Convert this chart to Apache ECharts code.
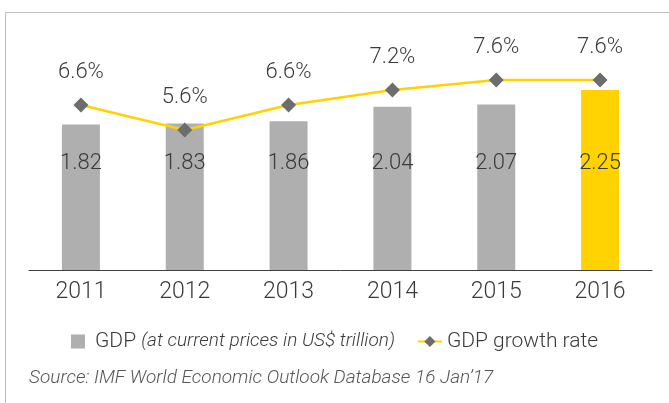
<!DOCTYPE html>
<html>
<head>
<meta charset="utf-8">
<script src="https://cdn.jsdelivr.net/npm/echarts@6/dist/echarts.min.js"></script>
<style>
  html, body { margin: 0; padding: 0; background: #fff; }
  #chart { width: 669px; height: 403px; }
</style>
</head>
<body>
<div id="chart"></div>
<script>
// data
const years = ['2011', '2012', '2013', '2014', '2015', '2016']
const gdp = [1.82, 1.83, 1.86, 2.04, 2.07, 2.25]
const growth = [6.6, 5.6, 6.6, 7.2, 7.6, 7.6]

const FONT = "Roboto, 'Liberation Sans', sans-serif"
const W = 300
const TEXT = '#3a3a3a'

let chart = echarts.init(document.getElementById('chart'))

let option = {
  backgroundColor: '#fff',
  textStyle: { fontFamily: FONT, fontWeight: W },
  animation: false,
  // light frame around the chart
  graphic: [
    {
      type: 'rect',
      shape: { x: 5.5, y: 12.5, width: 800, height: 600 },
      style: { fill: 'none', stroke: '#c0c0c0', lineWidth: 1 },
      silent: true,
    },
    {
      type: 'text',
      left: 29,
      top: 369,
      style: {
        text: 'Source: IMF World Economic Outlook Database 16 Jan\u201917',
        fontFamily: FONT,
        fontWeight: W,
        fontStyle: 'italic',
        fontSize: 19,
        fill: '#555555',
      },
    },
  ],
  grid: {
    left: 29,
    right: 17,
    top: 20,
    bottom: 133,
  },
  legend: {
    left: 66,
    top: 326,
    itemWidth: 24,
    itemHeight: 14,
    itemGap: 22,
    symbolKeepAspect: true,
    textStyle: {
      fontFamily: FONT,
      fontWeight: W,
      fontSize: 21,
      color: TEXT,
      rich: {
        n: { fontFamily: FONT, fontWeight: W, fontSize: 21, color: TEXT },
        i: { fontFamily: FONT, fontWeight: W, fontSize: 19, color: TEXT, fontStyle: 'italic' },
      },
    },
    formatter: function (name) {
      if (name === 'GDP') return '{n|GDP} {i|(at current prices in US$ trillion)}'
      return '{n|' + name + '}'
    },
    data: [
      { name: 'GDP', icon: 'path://M0,0h14v14h-14z', itemStyle: { color: '#afafaf' } },
      { name: 'GDP growth rate' },
    ],
  },
  xAxis: {
    type: 'category',
    data: years,
    axisLine: { lineStyle: { color: '#404040', width: 1 } },
    axisTick: { alignWithLabel: true, length: 5, lineStyle: { color: '#404040' } },
    axisLabel: { color: TEXT, fontSize: 23, fontFamily: FONT, fontWeight: W, margin: 11 },
  },
  yAxis: [
    { type: 'value', min: 0, max: 3.125, show: false, splitLine: { show: false } },
    { type: 'value', min: 0, max: 10, show: false, splitLine: { show: false } },
  ],
  series: [
    {
      name: 'GDP',
      type: 'bar',
      yAxisIndex: 0,
      barWidth: 38,
      data: gdp.map((v, i) => ({
        value: v,
        itemStyle: { color: i === gdp.length - 1 ? '#ffd200' : '#afafaf' },
      })),
      itemStyle: { color: '#afafaf' },
      label: {
        show: true,
        position: 'insideBottom',
        distance: 96,
        color: TEXT,
        fontSize: 22,
        fontFamily: FONT,
        fontWeight: W,
        formatter: (p) => p.value.toFixed(2),
      },
    },
    {
      name: 'GDP growth rate',
      type: 'line',
      yAxisIndex: 1,
      data: growth,
      symbol: 'diamond',
      symbolSize: 15,
      itemStyle: { color: '#6d6d6d' },
      lineStyle: { color: '#ffd200', width: 2.5 },
      label: {
        show: true,
        position: 'top',
        distance: 14,
        color: TEXT,
        fontSize: 22,
        fontFamily: FONT,
        fontWeight: W,
        formatter: (p) => p.value.toFixed(1) + '%',
      },
      z: 3,
    },
  ],
}

chart.setOption(option)
</script>
</body>
</html>
